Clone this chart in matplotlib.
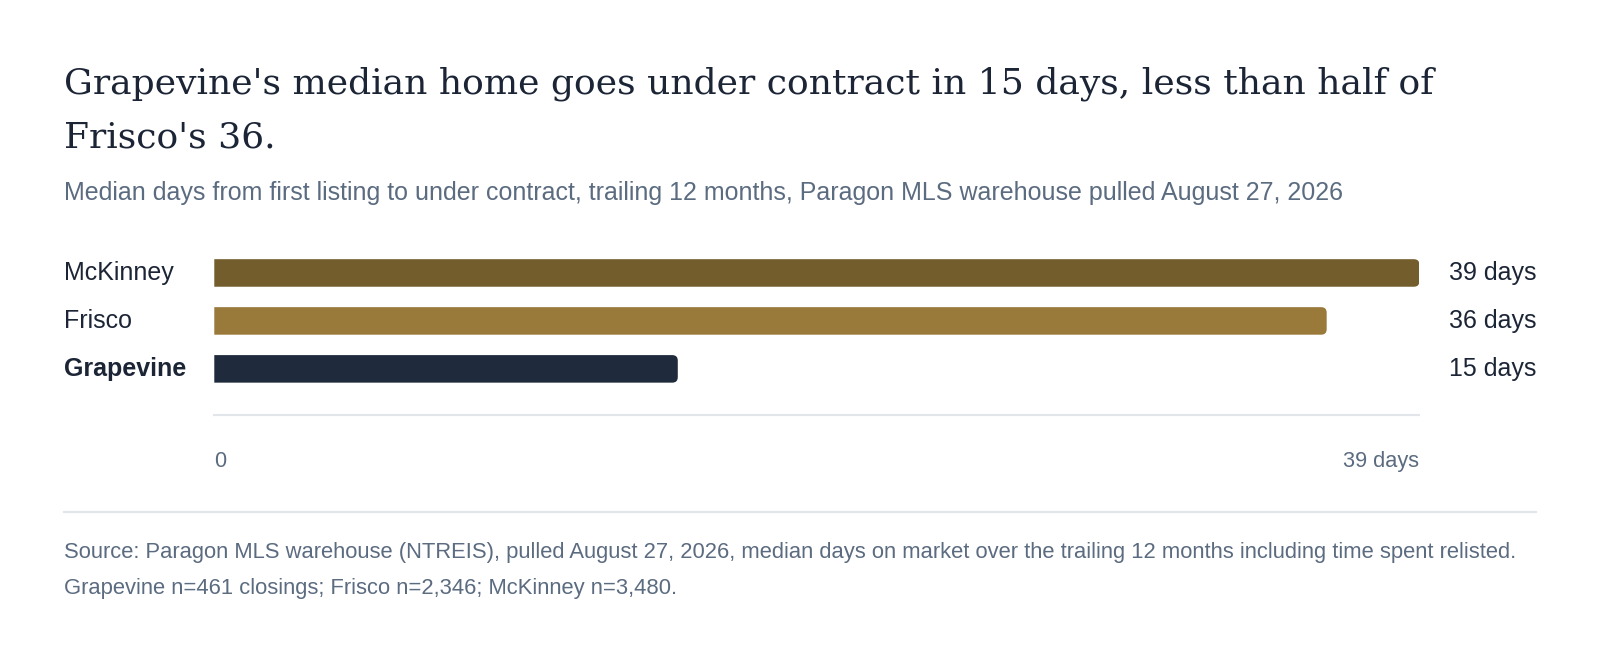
import matplotlib
matplotlib.use("Agg")
import matplotlib.pyplot as plt
from matplotlib.patches import PathPatch
from matplotlib.path import Path

categories = ["McKinney", "Frisco", "Grapevine"]
values = [39, 36, 15]
value_labels = ["39 days", "36 days", "15 days"]
colors = ["#745d2c", "#9a7a3a", "#1f2b3c"]
tick_values = [0, 39]
tick_labels = ["0", "39 days"]

title = "Grapevine's median home goes under contract in 15 days, less than half of\nFrisco's 36."
subtitle = "Median days from first listing to under contract, trailing 12 months, Paragon MLS warehouse pulled August 27, 2026"
footer = ("Source: Paragon MLS warehouse (NTREIS), pulled August 27, 2026, median days on market over the trailing 12 months including time spent relisted.\n"
          "Grapevine n=461 closings; Frisco n=2,346; McKinney n=3,480.")

W, H = 1600, 646
S = 1600 / 1568
fig = plt.figure(figsize=(W / 100, H / 100), dpi=100)
fig.patch.set_facecolor("white")

def fx(px):
    return px * S / W

def fy(py):
    return 1 - py * S / H

SANS = ["Liberation Sans", "DejaVu Sans"]
SERIF = ["DejaVu Serif"]
TEXT = "#1c2536"
GRAY = "#5b6b80"

ROW = 47
ax = fig.add_axes([fx(210), fy(407), fx(1391) - fx(210), fy(244) - fy(407)])
ax.set_xlim(0, max(tick_values))
ax.set_ylim(-0.5 + (407 - 244) / ROW, -0.5)
ax.set_facecolor("none")

bar_h = 27 / ROW
ypos = list(range(len(categories)))

fig.canvas.draw()
x0, _ = ax.transData.transform((0, 0))
x1, _ = ax.transData.transform((1, 0))
_, y0 = ax.transData.transform((0, 0))
_, y1 = ax.transData.transform((0, 1))
ppx = abs(x1 - x0)
ppy = abs(y1 - y0)
r_px = 5.5
rx = r_px / ppx
ry = r_px / ppy
for y, v, c in zip(ypos, values, colors):
    b, t = y - bar_h / 2, y + bar_h / 2
    verts = [(0, b), (v - rx, b), (v, b), (v, b + ry), (v, t - ry), (v, t),
             (v - rx, t), (0, t), (0, b)]
    codes = [Path.MOVETO, Path.LINETO, Path.CURVE3, Path.CURVE3, Path.LINETO,
             Path.CURVE3, Path.CURVE3, Path.LINETO, Path.CLOSEPOLY]
    ax.add_patch(PathPatch(Path(verts, codes), facecolor=c, edgecolor="none"))

for s in ["top", "right", "left"]:
    ax.spines[s].set_visible(False)
ax.spines["bottom"].set_color("#e2e6eb")
ax.spines["bottom"].set_linewidth(1.5)
ax.set_yticks([])
ax.set_xticks(tick_values)
ax.set_xticklabels(tick_labels, fontfamily=SANS, fontsize=15.7, color=GRAY)
ax.tick_params(axis="x", length=0, pad=26)
tl = ax.get_xticklabels()
tl[0].set_ha("left")
tl[-1].set_ha("right")

for y, cat in zip(ypos, categories):
    ax.text(-(210 - 63) * S / ppx, y, cat, ha="left", va="center", fontsize=18,
            fontfamily=SANS, color=TEXT,
            fontweight="bold" if cat == "Grapevine" else "normal")
for y, lab in zip(ypos, value_labels):
    ax.text(max(tick_values) + (1420 - 1391) * S / ppx, y, lab, ha="left", va="center",
            fontsize=18, fontfamily=SANS, color=TEXT)

t1, t2 = title.split("\n")
fig.text(fx(63), fy(92), t1, fontsize=26, fontfamily=SERIF,
         color=TEXT, va="baseline", ha="left")
fig.text(fx(63), fy(145), t2, fontsize=26, fontfamily=SERIF,
         color=TEXT, va="baseline", ha="left")
fig.text(fx(63), fy(189), subtitle, fontsize=18, fontfamily=SANS, color=GRAY,
         va="center", ha="left")

fig.add_artist(plt.Line2D([fx(63), fx(1505)], [fy(502), fy(502)], color="#e2e6eb", lw=1.5))
f1, f2 = footer.split("\n")
fig.text(fx(63), fy(541), f1, fontsize=15.8, fontfamily=SANS, color=GRAY, va="center", ha="left")
fig.text(fx(63), fy(577), f2, fontsize=15.8, fontfamily=SANS, color=GRAY, va="center", ha="left")

fig.savefig("out.png", dpi=100, facecolor="white")
